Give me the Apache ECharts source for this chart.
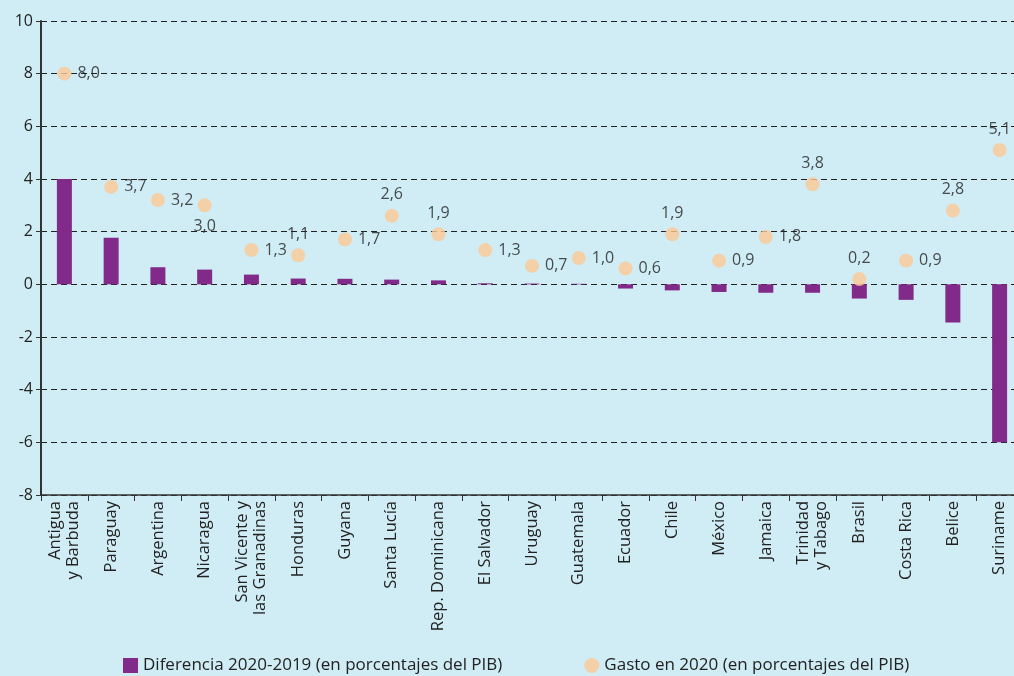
<!DOCTYPE html>
<html>
<head>
<meta charset="utf-8">
<script src="https://cdn.jsdelivr.net/npm/echarts@6/dist/echarts.min.js"></script>
<style>
  html, body { margin: 0; padding: 0; background: #d0edf5; overflow: hidden; }
  #chart { width: 1023px; height: 676px; }
</style>
</head>
<body>
<div id="chart"></div>
<script>
  // datos
  var countries = ['Antigua\ny Barbuda', 'Paraguay', 'Argentina', 'Nicaragua', 'San Vicente y\nlas Granadinas',
    'Honduras', 'Guyana', 'Santa Lucía', 'Rep. Dominicana', 'El Salvador', 'Uruguay', 'Guatemala',
    'Ecuador', 'Chile', 'México', 'Jamaica', 'Trinidad\ny Tabago', 'Brasil', 'Costa Rica', 'Belice', 'Suriname'];
  var diferencia = [4.0, 1.77, 0.65, 0.56, 0.37, 0.22, 0.21, 0.18, 0.15, 0.04, 0.03, 0.02,
    -0.16, -0.23, -0.29, -0.32, -0.32, -0.54, -0.59, -1.45, -6.0];
  var gasto = [8.0, 3.7, 3.2, 3.0, 1.3, 1.1, 1.7, 2.6, 1.9, 1.3, 0.7, 1.0,
    0.6, 1.9, 0.9, 1.8, 3.8, 0.2, 0.9, 2.8, 5.1];
  var yTicks = [-8, -6, -4, -2, 0, 2, 4, 6, 8, 10];

  // posicion de las etiquetas
  var labelPos = ['right', 'right', 'right', 'bottom', 'right', 'top', 'right', 'top', 'top', 'right', 'right', 'right',
    'right', 'top', 'right', 'right', 'top', 'top', 'right', 'top', 'top'];

  var myChart = echarts.init(document.getElementById('chart'));

  var scatterData = gasto.map(function (v, i) {
    return { value: v, label: { position: labelPos[i] } };
  });

  var option = {
    backgroundColor: '#d0edf5',
    textStyle: { fontFamily: 'Open Sans', color: '#222' },
    grid: { left: 41, right: 0, top: 21, bottom: 181, containLabel: false },
    legend: {
      bottom: -3,
      left: 118,
      itemGap: 82,
      itemWidth: 15,
      itemHeight: 15,
      textStyle: { fontSize: 17, color: '#222', fontFamily: 'Open Sans' },
      data: [
        { name: 'Diferencia 2020-2019 (en porcentajes del PIB)', icon: 'rect' },
        { name: 'Gasto en 2020 (en porcentajes del PIB)', icon: 'circle' }
      ]
    },
    xAxis: {
      type: 'category',
      data: countries,
      axisLine: { onZero: false, lineStyle: { color: '#333', width: 1.5 } },
      axisTick: { show: true, length: 6, lineStyle: { color: '#333' } },
      axisLabel: { rotate: 90, fontSize: 16.5, color: '#222', interval: 0, lineHeight: 18, margin: 6 }
    },
    yAxis: {
      type: 'value',
      min: yTicks[0],
      max: yTicks[yTicks.length - 1],
      interval: 2,
      axisLine: { show: true, lineStyle: { color: '#333', width: 2 } },
      axisTick: { show: true, length: 5, lineStyle: { color: '#333' } },
      axisLabel: { fontSize: 16, color: '#222', margin: 8 },
      splitLine: { lineStyle: { type: [6, 4], color: '#222', width: 1 } }
    },
    series: [
      {
        name: 'Diferencia 2020-2019 (en porcentajes del PIB)',
        type: 'bar',
        data: diferencia,
        barWidth: 15,
        itemStyle: { color: '#822a8a' }
      },
      {
        name: 'Gasto en 2020 (en porcentajes del PIB)',
        type: 'scatter',
        data: scatterData,
        symbolSize: 14,
        itemStyle: { color: '#fcc896' },
        label: {
          show: true,
          fontSize: 16,
          color: '#222',
          distance: 6,
          formatter: function (p) { return p.value.toFixed(1).replace('.', ','); }
        }
      }
    ]
  };

  myChart.setOption(option);
</script>
</body>
</html>
